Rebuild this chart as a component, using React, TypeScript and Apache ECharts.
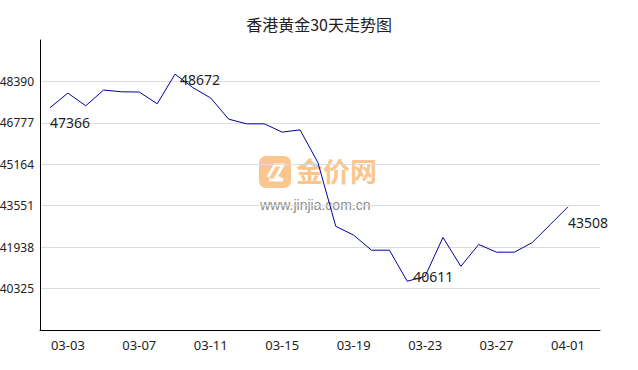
import React, { useEffect, useRef } from "react";
import * as echarts from "echarts";

const titleText = "香港黄金30天走势图";
const dates = [
  "03-02", "03-03", "03-04", "03-05", "03-06", "03-07", "03-08", "03-09", "03-10", "03-11",
  "03-12", "03-13", "03-14", "03-15", "03-16", "03-17", "03-18", "03-19", "03-20", "03-21",
  "03-22", "03-23", "03-24", "03-25", "03-26", "03-27", "03-28", "03-29", "03-31", "04-01",
];
const prices = [
  47366, 47937, 47441, 48054, 47988, 47976, 47520, 48672, 48150, 47742,
  46922, 46739, 46739, 46415, 46504, 45230, 42750, 42405, 41819, 41819,
  40611, 40800, 42317, 41190, 42042, 41742, 41742, 42117, 42812, 43508,
];
// indices of points carrying a value label, with their label offsets
const labelledPoints = [0, 7, 20, 29];
const labelOffsets = [[0, 15], [5, 5], [6, -5], [0, 16]];
const yMin = 38712;
const yMax = 50003;
const yStep = 1613;

const FONT = "'Noto Sans', 'Noto Sans CJK SC', sans-serif";

export default function App() {
  const ref = useRef<HTMLDivElement>(null);
  useEffect(() => {
    if (!ref.current) return;
    const chart = echarts.init(ref.current, undefined, { renderer: "svg" });
    const seriesData = prices.map((v, i) => {
      const k = labelledPoints.indexOf(i);
      if (k < 0) return v;
      return {
        value: v,
        label: {
          show: true,
          position: "right",
          distance: 0,
          offset: labelOffsets[k],
          formatter: String(v),
          color: "#222",
          fontSize: 14,
          fontFamily: FONT,
        },
      };
    });
    chart.setOption({
      animation: false,
      backgroundColor: "#fff",
      title: {
        text: titleText,
        left: "center",
        top: 11,
        textStyle: {
          fontSize: 16,
          fontWeight: "normal",
          color: "#222",
          fontFamily: "'Noto Sans CJK SC', sans-serif",
        },
      },
      graphic: [
        {
          type: "group",
          left: 259,
          top: 156,
          silent: true,
          children: [
            {
              type: "rect",
              shape: { x: 0, y: 0, width: 32, height: 32, r: 7 },
              style: { fill: "#fbc58e" },
            },
            {
              type: "polyline",
              shape: { points: [[9, 21], [16, 9], [24, 9], [17, 21], [24, 24], [10, 24]] },
              style: { stroke: "#fff", lineWidth: 3, fill: "none" },
            },
            {
              type: "text",
              x: 37,
              y: 1,
              style: {
                text: "金价网",
                fontSize: 27,
                fontWeight: "bold",
                fill: "#fbc58e",
                fontFamily: "'Noto Sans CJK SC', sans-serif",
              },
            },
            {
              type: "text",
              x: 1,
              y: 42,
              style: {
                text: "www.jinjia.com.cn",
                fontSize: 14,
                fill: "#8c8c8c",
                fontFamily: "'Liberation Sans', Arial, sans-serif",
              },
            },
          ],
        },
      ],
      grid: [
        { left: 40, right: 38, top: 40, bottom: 40, outerBoundsMode: "none", containLabel: false },
        { left: 50, right: 70, top: 40, bottom: 40, outerBoundsMode: "none", containLabel: false },
      ],
      xAxis: [
        {
          type: "category",
          gridIndex: 0,
          data: dates,
          boundaryGap: false,
          axisLine: { show: true, lineStyle: { color: "#000", width: 1 } },
          axisTick: { show: false },
          axisLabel: { show: false },
          splitLine: { show: false },
        },
        {
          type: "category",
          gridIndex: 1,
          data: dates,
          boundaryGap: false,
          axisLine: { show: false },
          axisTick: { show: false },
          splitLine: { show: false },
          axisLabel: {
            show: true,
            interval: (index: number) => index % 4 === 1,
            margin: 8,
            color: "#222",
            fontSize: 13,
            fontFamily: FONT,
          },
        },
      ],
      yAxis: [
        {
          type: "value",
          gridIndex: 0,
          min: yMin,
          max: yMax,
          interval: yStep,
          axisLine: { show: true, lineStyle: { color: "#000", width: 1 } },
          axisTick: { show: false },
          axisLabel: {
            showMinLabel: false,
            showMaxLabel: false,
            formatter: (v: number) => String(v),
            margin: 6,
            color: "#222",
            fontSize: 12,
            fontFamily: FONT,
          },
          splitLine: {
            show: true,
            showMinLine: false,
            showMaxLine: false,
            lineStyle: { color: "#dcdcdc", width: 1 },
          },
        },
        {
          type: "value",
          gridIndex: 1,
          min: yMin,
          max: yMax,
          interval: yStep,
          show: false,
          splitLine: { show: false },
        },
      ],
      series: [
        {
          type: "line",
          xAxisIndex: 1,
          yAxisIndex: 1,
          data: seriesData,
          symbol: "circle",
          symbolSize: 0,
          showSymbol: true,
          lineStyle: { color: "#0000a0", width: 1 },
          itemStyle: { color: "#0000a0" },
          z: 3,
        },
      ],
    });
    return () => chart.dispose();
  }, []);
  return (
    <div
      ref={ref}
      style={{ position: "fixed", left: 0, top: 0, width: 638, height: 370, background: "#fff" }}
    />
  );
}
